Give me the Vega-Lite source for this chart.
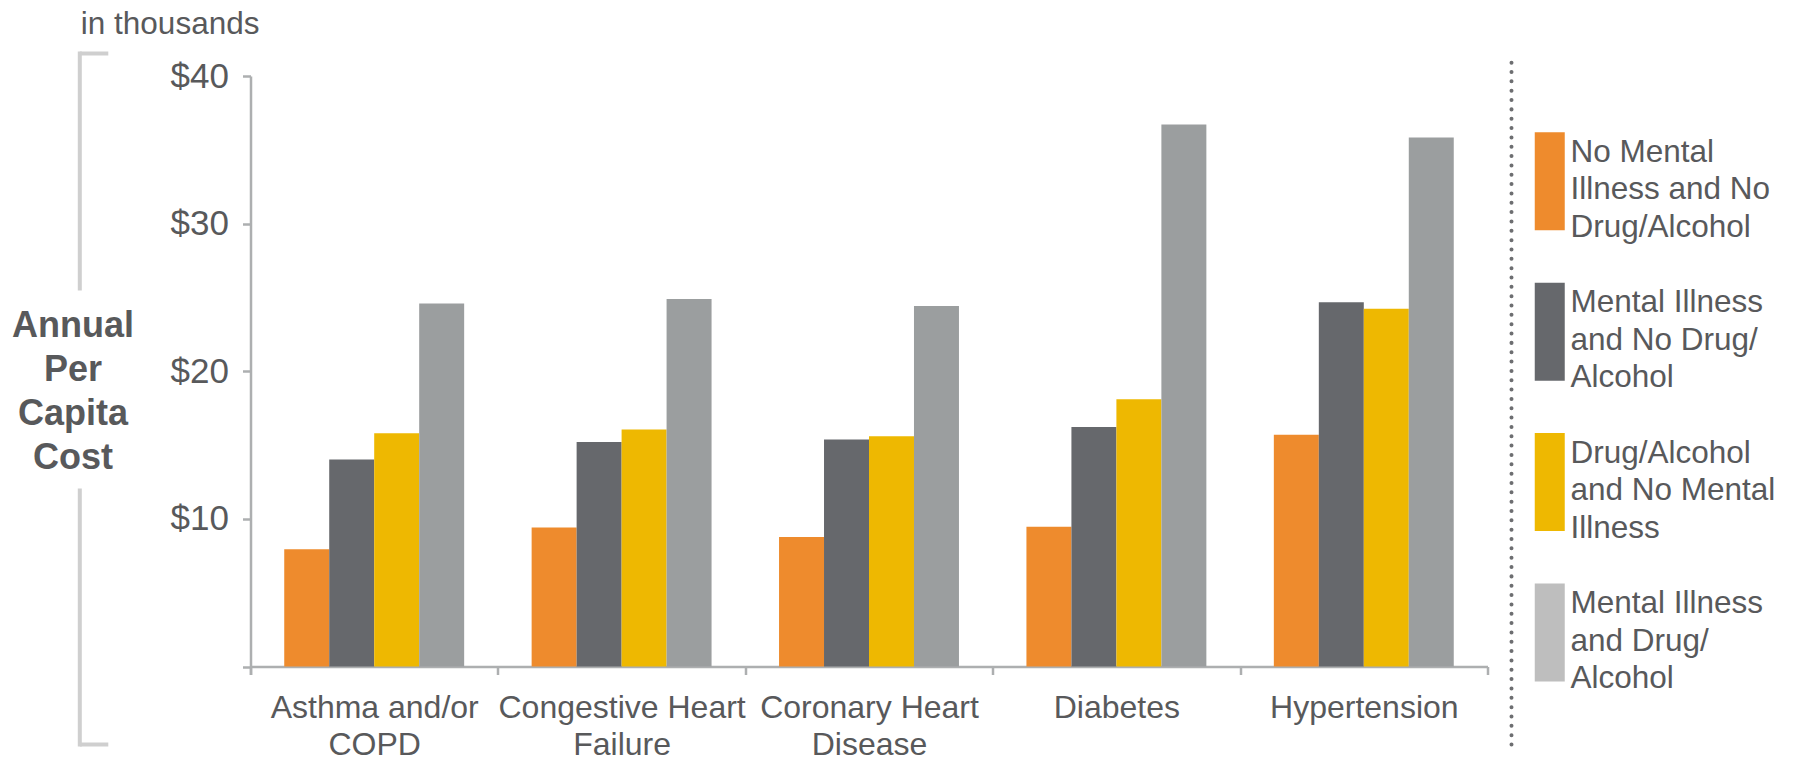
{
  "$schema": "https://vega.github.io/schema/vega-lite/v6.json",
  "width": 1237,
  "height": 691,
  "autosize": {"type": "none"},
  "padding": {"left": 250.5, "top": 53, "right": 306.5, "bottom": 15},
  "background": "white",
  "config": {
    "view": {"stroke": null},
    "font": "Liberation Sans",
    "axis": {"grid": false}
  },
  "data": {
    "values": [
      {"condition": "Asthma and/or COPD", "group": "No Mental Illness and No Drug/Alcohol", "cost": 7.94},
      {"condition": "Asthma and/or COPD", "group": "Mental Illness and No Drug/Alcohol", "cost": 14.02},
      {"condition": "Asthma and/or COPD", "group": "Drug/Alcohol and No Mental Illness", "cost": 15.80},
      {"condition": "Asthma and/or COPD", "group": "Mental Illness and Drug/Alcohol", "cost": 24.59},
      {"condition": "Congestive Heart Failure", "group": "No Mental Illness and No Drug/Alcohol", "cost": 9.42},
      {"condition": "Congestive Heart Failure", "group": "Mental Illness and No Drug/Alcohol", "cost": 15.20},
      {"condition": "Congestive Heart Failure", "group": "Drug/Alcohol and No Mental Illness", "cost": 16.05},
      {"condition": "Congestive Heart Failure", "group": "Mental Illness and Drug/Alcohol", "cost": 24.89},
      {"condition": "Coronary Heart Disease", "group": "No Mental Illness and No Drug/Alcohol", "cost": 8.77},
      {"condition": "Coronary Heart Disease", "group": "Mental Illness and No Drug/Alcohol", "cost": 15.38},
      {"condition": "Coronary Heart Disease", "group": "Drug/Alcohol and No Mental Illness", "cost": 15.60},
      {"condition": "Coronary Heart Disease", "group": "Mental Illness and Drug/Alcohol", "cost": 24.42},
      {"condition": "Diabetes", "group": "No Mental Illness and No Drug/Alcohol", "cost": 9.47},
      {"condition": "Diabetes", "group": "Mental Illness and No Drug/Alcohol", "cost": 16.23},
      {"condition": "Diabetes", "group": "Drug/Alcohol and No Mental Illness", "cost": 18.11},
      {"condition": "Diabetes", "group": "Mental Illness and Drug/Alcohol", "cost": 36.71},
      {"condition": "Hypertension", "group": "No Mental Illness and No Drug/Alcohol", "cost": 15.70},
      {"condition": "Hypertension", "group": "Mental Illness and No Drug/Alcohol", "cost": 24.67},
      {"condition": "Hypertension", "group": "Drug/Alcohol and No Mental Illness", "cost": 24.24},
      {"condition": "Hypertension", "group": "Mental Illness and Drug/Alcohol", "cost": 35.84}
    ]
  },
  "layer": [
    {
      "mark": {"type": "bar"},
      "encoding": {
        "x": {
          "field": "condition", "type": "nominal", "sort": null,
          "scale": {"paddingInner": 0, "paddingOuter": 0},
          "axis": {
            "title": null, "orient": "bottom", "offset": -77.5,
            "tickBand": "extent", "tickSize": 8, "tickWidth": 2.5, "tickColor": "#ADAFB0",
            "domainColor": "#ADAFB0", "domainWidth": 2.5,
            "labelFontSize": 32, "labelColor": "#58595B", "labelAngle": 0, "labelLimit": 400,
            "labelPadding": 18, "labelLineHeight": 37, "labelBaseline": "top",
            "labelExpr": "datum.label == 'Asthma and/or COPD' ? ['Asthma and/or', 'COPD'] : datum.label == 'Congestive Heart Failure' ? ['Congestive Heart', 'Failure'] : datum.label == 'Coronary Heart Disease' ? ['Coronary Heart', 'Disease'] : datum.label"
          }
        },
        "xOffset": {
          "field": "group", "type": "nominal",
          "sort": ["No Mental Illness and No Drug/Alcohol", "Mental Illness and No Drug/Alcohol", "Drug/Alcohol and No Mental Illness", "Mental Illness and Drug/Alcohol"],
          "scale": {"paddingInner": 0, "paddingOuter": 0.75}
        },
        "y": {
          "field": "cost", "type": "quantitative",
          "scale": {"domain": [-5.25, 41.56], "nice": false, "zero": false},
          "axis": {
            "orient": "left",
            "values": [0, 10, 20, 30, 40],
            "labelExpr": "datum.value == 0 ? '' : '$' + datum.value",
            "labelFontSize": 35, "labelColor": "#58595B", "labelPadding": 14,
            "tickSize": 8, "tickWidth": 2.5, "tickColor": "#ADAFB0",
            "domainColor": "#ADAFB0", "domainWidth": 2.5, "domainDash": [0, 69.5, 598.5, 100],
            "title": ["Annual", "Per", "Capita", "Cost"],
            "titleAngle": 0, "titleAlign": "center", "titleBaseline": "middle",
            "titleX": -178, "titleY": 272, "titleFontSize": 36, "titleFontWeight": "bold",
            "titleColor": "#58595B", "titleLineHeight": 44
          }
        },
        "y2": {"datum": 0},
        "color": {
          "field": "group", "type": "nominal",
          "scale": {
            "range": ["#EEB801", "#9B9E9F", "#66686C", "#EE8B2D"]
          },
          "legend": null
        }
      }
    },
    {
      "mark": {"type": "bar"},
      "encoding": {
        "x": {"field": "condition", "type": "nominal", "sort": null},
        "xOffset": {
          "field": "group", "type": "nominal",
          "sort": ["No Mental Illness and No Drug/Alcohol", "Mental Illness and No Drug/Alcohol", "Drug/Alcohol and No Mental Illness", "Mental Illness and Drug/Alcohol"]
        },
        "y": {"datum": 0, "type": "quantitative", "axis": null},
        "y2": {"datum": 0},
        "fill": {
          "field": "group", "type": "nominal",
          "scale": {
            "domain": ["No Mental Illness and No Drug/Alcohol", "Mental Illness and No Drug/Alcohol", "Drug/Alcohol and No Mental Illness", "Mental Illness and Drug/Alcohol"],
            "range": ["#EE8B2D", "#66686C", "#EEB801", "#BEBEBE"]
          },
          "legend": {
            "orient": "none", "legendX": 1283.5, "legendY": 84.1, "title": null,
            "symbolType": "M-1,-1.374H1V5.16H-1Z", "symbolSize": 900, "symbolStrokeWidth": 0,
            "labelFontSize": 31.5, "labelColor": "#58595B", "labelOffset": 5, "labelLimit": 0,
            "rowPadding": 38.4,
            "labelExpr": "datum.label == 'No Mental Illness and No Drug/Alcohol' ? ['No Mental', 'Illness and No', 'Drug/Alcohol'] : datum.label == 'Mental Illness and No Drug/Alcohol' ? ['Mental Illness', 'and No Drug/', 'Alcohol'] : datum.label == 'Drug/Alcohol and No Mental Illness' ? ['Drug/Alcohol', 'and No Mental', 'Illness'] : ['Mental Illness', 'and Drug/', 'Alcohol']",
            "encode": {
              "labels": {"update": {"lineHeight": {"value": 37.5}}}
            }
          }
        }
      }
    },
    {
      "mark": {"type": "rule", "opacity": 0},
      "encoding": {
        "y": {
          "field": "cost", "type": "quantitative",
          "axis": {
            "orient": "left", "offset": 171.2,
            "values": [-5.25, 41.56], "labels": false,
            "tickSize": -28.5, "tickWidth": 4, "tickColor": "#CFCFCF",
            "domainColor": "#CFCFCF", "domainWidth": 4, "domainDash": [254, 202, 240, 10], "domainCap": "square",
            "title": "in thousands", "titleAngle": 0, "titleAlign": "left", "titleBaseline": "alphabetic",
            "titleX": 1, "titleY": -20, "titleFontSize": 31.5, "titleFontWeight": "normal", "titleColor": "#58595B"
          }
        }
      }
    },
    {
      "mark": {"type": "rule", "opacity": 0},
      "encoding": {
        "y": {
          "field": "cost", "type": "quantitative",
          "axis": {
            "orient": "right", "offset": 23.5,
            "labels": false, "ticks": false, "title": null,
            "domainColor": "#6D6E71", "domainWidth": 4, "domainDash": [0.01, 9.33], "domainCap": "round"
          }
        }
      }
    }
  ],
  "resolve": {"axis": {"y": "independent"}}
}
